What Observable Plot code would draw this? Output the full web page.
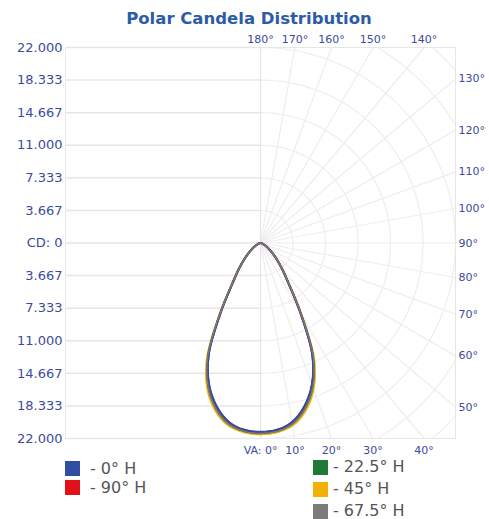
<!DOCTYPE html>
<html><head><meta charset="utf-8">
<script src="https://cdn.jsdelivr.net/npm/d3@7"></script>
<script src="https://cdn.jsdelivr.net/npm/@observablehq/plot@0.6"></script>
<style>
body{margin:0;background:#fff;}
#wrap{position:relative;width:489px;height:519px;overflow:hidden;font-family:"DejaVu Sans",sans-serif;}
#title{position:absolute;left:0;top:9px;width:498px;text-align:center;font-weight:bold;font-size:16.5px;line-height:20px;color:#2d5ca6;}
#chart{position:absolute;left:0;top:28px;}
.leg{position:absolute;font-size:16px;color:#555;}
.row{display:flex;align-items:center;white-space:nowrap;}
.row span{line-height:16px;}
.sw{width:15px;height:15px;flex:none;}
</style></head>
<body>
<div id="wrap">
 <div id="title">Polar Candela Distribution</div>
 <div id="chart"></div>
 <div class="leg" id="legL" style="left:65px;top:459px;"></div>
 <div class="leg" id="legR" style="left:313px;top:456px;"></div>
</div>
<script>
// ---- data ----
const R = 22000;
const angles = [0,5,10,15,20,25,30,35,40,45,50,55,60,65,70,75,80,85,90];
const cd0   = [21250,21100,20450,19050,16950,13780,8870,5420,3750,2560,1720,1130,740,455,258,129,55,15,0];
const cd22  = [21400,21250,20650,19300,17200,14000,9000,5500,3800,2600,1750,1150,750,460,260,130,55,15,0];
const cd45  = [21520,21380,20850,19560,17480,14250,9150,5580,3860,2630,1770,1160,755,462,261,130,55,15,0];
const cd67  = [21420,21280,20700,19360,17270,14070,9050,5530,3820,2610,1755,1152,751,460,260,130,55,15,0];
const cd90  = [21280,21130,20500,19100,17000,13830,8900,5450,3770,2575,1735,1140,745,457,259,129,55,15,0];
const seriesNames  = ["0° H","22.5° H","45° H","67.5° H","90° H"];
const seriesColors = ["#2f4ea3","#1f7a35","#f2b000","#7c7c7c","#e3101c"];
const seriesValues = [cd0, cd22, cd45, cd67, cd90];
const drawOrder = ["45° H","22.5° H","90° H","0° H","67.5° H"];

const cdTickValues = [22000,18333,14667,11000,7333,3667,0,-3667,-7333,-11000,-14667,-18333,-22000];
const cdTickLabels = ["22.000","18.333","14.667","11.000","7.333","3.667","CD: 0","3.667","7.333","11.000","14.667","18.333","22.000"];
const angleTicks = [0,10,20,30,40,50,60,70,80,90,100,110,120,130,140,150,160,170,180];
const angleTickLabels = ["VA: 0°","10°","20°","30°","40°","50°","60°","70°","80°","90°","100°","110°","120°","130°","140°","150°","160°","170°","180°"];
const arcSteps = [1,2,3,4,5,6,7,8];

// ---- derived tables ----
const rad = a => a * Math.PI / 180;
const curveRows = [];
for (const name of drawOrder) {
  const vals = seriesValues[seriesNames.indexOf(name)];
  for (let i = angles.length - 1; i >= 0; i--) {
    const a = rad(angles[i]);
    curveRows.push({series: name, x: -vals[i] * Math.sin(a), y: -vals[i] * Math.cos(a)});
  }
  for (let i = 1; i < angles.length; i++) {
    const a = rad(angles[i]);
    curveRows.push({series: name, x: vals[i] * Math.sin(a), y: -vals[i] * Math.cos(a)});
  }
}
function edge(deg) {
  const sx = Math.sin(rad(deg)), sy = -Math.cos(rad(deg));
  const t = R / Math.max(Math.abs(sx), Math.abs(sy));
  const side = Math.abs(sy) > Math.abs(sx) + 1e-9 ? (sy > 0 ? "top" : "bottom") : "right";
  return {x: t * sx, y: t * sy, side};
}
const radials = angleTicks.map(a => ({a, ...edge(a)}));
const labels = angleTicks.map((a, i) => ({a, text: angleTickLabels[i], ...edge(a)}));
const arcRows = [];
for (const k of arcSteps) {
  for (let d = 0; d <= 180; d += 2) {
    const r = k * R / 6;
    arcRows.push({k, x: r * Math.sin(rad(d)), y: -r * Math.cos(rad(d))});
  }
}
const labelMap = new Map(cdTickValues.map((v, i) => [v, cdTickLabels[i]]));
const colorMap = new Map(seriesNames.map((n, i) => [n, seriesColors[i]]));
const widthMap = new Map([["45° H",2.2],["22.5° H",2],["90° H",2],["0° H",2],["67.5° H",1.4]]);
const axisBlue = "#3b4b9c";
const gridColor = "#e6e6e6";

const chart = Plot.plot({
  width: 489, height: 434,
  marginLeft: 65, marginRight: 34, marginTop: 19, marginBottom: 24,
  style: {fontFamily: "DejaVu Sans, sans-serif", background: "transparent", overflow: "visible"},
  x: {domain: [-R, R], axis: null},
  y: {domain: [-R, R], axis: null},
  color: {domain: seriesNames, range: seriesColors},
  marks: [
    Plot.ruleY(cdTickValues, {x1: -R, x2: 0, stroke: gridColor, strokeWidth: 1.5}),
    Plot.line(arcRows, {x: "x", y: "y", z: "k", stroke: "#eeeeee", strokeWidth: 1.2, clip: true}),
    Plot.link(radials, {x1: 0, y1: 0, x2: "x", y2: "y", stroke: "#eeeeee", strokeWidth: 1.2}),
    Plot.ruleX([0], {y1: -R, y2: R, stroke: gridColor, strokeWidth: 1.2}),
    Plot.frame({stroke: gridColor}),
    ...drawOrder.map(name => Plot.line(curveRows.filter(d => d.series === name), {x: "x", y: "y", stroke: colorMap.get(name), strokeWidth: widthMap.get(name), curve: "catmull-rom"})),
    Plot.axisY(cdTickValues, {tickFormat: d => labelMap.get(d), tickSize: 0, tickPadding: 3, fontSize: 13, fill: axisBlue, label: null}),
    Plot.text(labels.filter(d => d.side === "top"), {x: "x", y: "y", text: "text", dy: -8, fill: axisBlue, fontSize: 11}),
    Plot.text(labels.filter(d => d.side === "right"), {x: "x", y: "y", text: "text", dx: 3, textAnchor: "start", fill: axisBlue, fontSize: 11}),
    Plot.text(labels.filter(d => d.side === "bottom" && d.a > 0), {x: "x", y: "y", text: "text", dy: 12, fill: axisBlue, fontSize: 11}),
    Plot.text(labels.filter(d => d.side === "bottom" && d.a === 0), {x: "x", y: "y", text: "text", dy: 12, dx: 17, textAnchor: "end", fill: axisBlue, fontSize: 11})
  ]
});
document.getElementById("chart").appendChild(chart);

function legendRow(name, gap, space) {
  const row = document.createElement("div");
  row.className = "row";
  row.style.height = gap + "px";
  const sw = document.createElement("div");
  sw.className = "sw";
  sw.style.background = colorMap.get(name);
  sw.style.marginRight = space + "px";
  const t = document.createElement("span");
  t.textContent = "- " + name;
  row.appendChild(sw); row.appendChild(t);
  return row;
}
const legL = document.getElementById("legL");
["0° H","90° H"].forEach(n => legL.appendChild(legendRow(n, 19, 10)));
const legR = document.getElementById("legR");
["22.5° H","45° H","67.5° H"].forEach(n => legR.appendChild(legendRow(n, 22, 5)));
</script>
</body></html>
